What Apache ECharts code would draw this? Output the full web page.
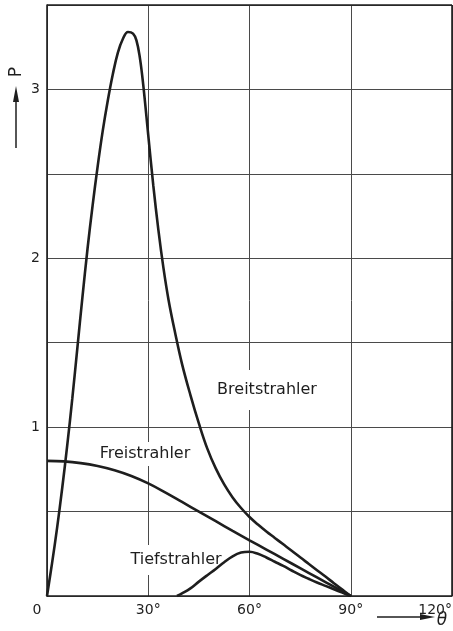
<!DOCTYPE html>
<html>
<head>
<meta charset="utf-8">
<script src="https://cdn.jsdelivr.net/npm/echarts@6/dist/echarts.min.js"></script>
<style>
html,body{margin:0;padding:0;background:#fff;}
#c{width:453px;height:631px;}
</style>
</head>
<body>
<div id="c"></div>
<script>
// Angle θ (degrees) and power P values
const breitX = [0, 1.5, 3, 4.5, 6, 7.5, 9, 10.5, 12, 13.5, 15, 16.5, 18, 19.5, 21, 22.5, 24, 25.5, 26.5, 27.5, 28.5, 30, 31.5, 33, 34.5, 36, 38, 40, 42.5, 45, 47.5, 50, 52.5, 55, 57.5, 60, 62.5, 65, 67.5, 70, 72.5, 75, 77.5, 80, 82.5, 85, 87.5, 90];
const breitY = [0, 0.195, 0.405, 0.638, 0.893, 1.17, 1.47, 1.77, 2.055, 2.31, 2.543, 2.753, 2.933, 3.09, 3.218, 3.3, 3.34, 3.33, 3.29, 3.19, 3.03, 2.73, 2.43, 2.168, 1.943, 1.755, 1.555, 1.375, 1.19, 1.022, 0.873, 0.756, 0.661, 0.584, 0.521, 0.468, 0.423, 0.382, 0.344, 0.306, 0.268, 0.229, 0.191, 0.153, 0.115, 0.076, 0.038, 0];
const freiX = [0, 5, 10, 15, 20, 25, 30, 35, 40, 45, 50, 55, 60, 65, 70, 75, 80, 85, 90];
const freiY = [0.8, 0.797, 0.787, 0.77, 0.745, 0.711, 0.667, 0.614, 0.557, 0.5, 0.443, 0.386, 0.33, 0.275, 0.22, 0.165, 0.11, 0.055, 0];
const tiefX = [38.5, 40, 42.5, 45, 47.5, 50, 52.5, 55, 57.5, 60, 62.5, 65, 67.5, 70, 72.5, 75, 77.5, 80, 82.5, 85, 87.5, 90];
const tiefY = [0, 0.015, 0.045, 0.085, 0.123, 0.16, 0.2, 0.235, 0.257, 0.262, 0.25, 0.228, 0.203, 0.178, 0.151, 0.125, 0.102, 0.08, 0.06, 0.04, 0.02, 0];
const xTicks = [0, 30, 60, 90, 120];
const xTickLabels = ['0', '30°', '60°', '90°', '120°'];
const yTickLabels = ['1', '2', '3'];
const seriesNames = ['Breitstrahler', 'Freistrahler', 'Tiefstrahler'];

function pairs(xs, ys) { return xs.map((x, i) => [x, ys[i]]); }

const FONT = 'DejaVu Sans';
const INK = '#1e1e1e';
const chart = echarts.init(document.getElementById('c'), null, {renderer: 'canvas'});

const lineSeries = (name, data) => ({
  name, type: 'line', data, smooth: 0.4, symbol: 'none',
  lineStyle: {color: INK, width: 2.6}, z: 5, animation: false
});

chart.setOption({
  backgroundColor: '#fff',
  animation: false,
  grid: {left: 47, right: 1, top: 5, bottom: 35, containLabel: false, outerBoundsMode: 'none'},
  xAxis: {
    type: 'value', min: 0, max: 120, interval: 30,
    axisLine: {show: true, onZero: false, lineStyle: {color: INK, width: 1.6}},
    axisTick: {show: false},
    splitLine: {show: true, lineStyle: {color: '#4a4a4a', width: 1}},
    axisLabel: {
      margin: 7, fontFamily: FONT, fontSize: 14, color: INK, hideOverlap: false,
      showMaxLabel: true, showMinLabel: true, alignMaxLabel: 'right',
      formatter: v => { const i = xTicks.indexOf(v); return i > 0 ? xTickLabels[i] : ''; }
    }
  },
  yAxis: {
    type: 'value', min: 0, max: 3.5, interval: 0.5,
    axisLine: {show: true, onZero: false, lineStyle: {color: INK, width: 1.6}},
    axisTick: {show: false},
    splitLine: {show: true, lineStyle: {color: '#4a4a4a', width: 1}},
    axisLabel: {
      margin: 7, fontFamily: FONT, fontSize: 14, color: INK,
      formatter: v => (Number.isInteger(v) && v > 0) ? yTickLabels[v - 1] : ''
    }
  },
  series: [
    lineSeries(seriesNames[0], pairs(breitX, breitY)),
    lineSeries(seriesNames[1], pairs(freiX, freiY)),
    lineSeries(seriesNames[2], pairs(tiefX, tiefY)),
    {
      type: 'line', data: [], silent: true, z: 4,
      markLine: {silent: true, symbol: 'none', label: {show: false},
        lineStyle: {color: INK, width: 1.6, type: 'solid'},
        data: [[{coord: [120, 0]}, {coord: [120, 3.5]}], [{coord: [0, 3.5]}, {coord: [120, 3.5]}]]}
    }
  ],
  graphic: [
    {type: 'text', x: 37, y: 610, z: 10, style: {text: xTickLabels[0], font: '14px ' + FONT, fill: INK, align: 'center', verticalAlign: 'middle'}},
    {type: 'text', x: 267, y: 390, z: 1, style: {text: seriesNames[0], font: '16px ' + FONT, fill: INK, align: 'center', verticalAlign: 'middle', backgroundColor: '#fff', padding: [12, 3]}},
    {type: 'text', x: 145, y: 454, z: 1, style: {text: seriesNames[1], font: '16px ' + FONT, fill: INK, align: 'center', verticalAlign: 'middle', backgroundColor: '#fff', padding: [4, 3]}},
    {type: 'text', x: 176, y: 560, z: 1, style: {text: seriesNames[2], font: '16px ' + FONT, fill: INK, align: 'center', verticalAlign: 'middle', backgroundColor: '#fff', padding: [7, 3]}},
    // P axis title with upward arrow
    {type: 'text', x: 17, y: 72, rotation: Math.PI / 2, z: 10, style: {text: 'P', font: '17px ' + FONT, fill: INK, align: 'center', verticalAlign: 'middle'}},
    {type: 'line', z: 10, shape: {x1: 16, y1: 148, x2: 16, y2: 100}, style: {stroke: INK, lineWidth: 1.5}},
    {type: 'polygon', z: 10, shape: {points: [[16, 86], [13, 102], [19, 102]]}, style: {fill: INK}},
    // θ axis title with arrow
    {type: 'line', z: 10, shape: {x1: 377, y1: 617, x2: 422, y2: 617}, style: {stroke: INK, lineWidth: 1.5}},
    {type: 'polygon', z: 10, shape: {points: [[435, 617], [420, 614], [420, 620]]}, style: {fill: INK}},
    {type: 'text', x: 442, y: 621, z: 10, style: {text: 'θ', font: 'italic 17px ' + FONT, fill: INK, align: 'center', verticalAlign: 'middle'}}
  ]
});
</script>
</body>
</html>
